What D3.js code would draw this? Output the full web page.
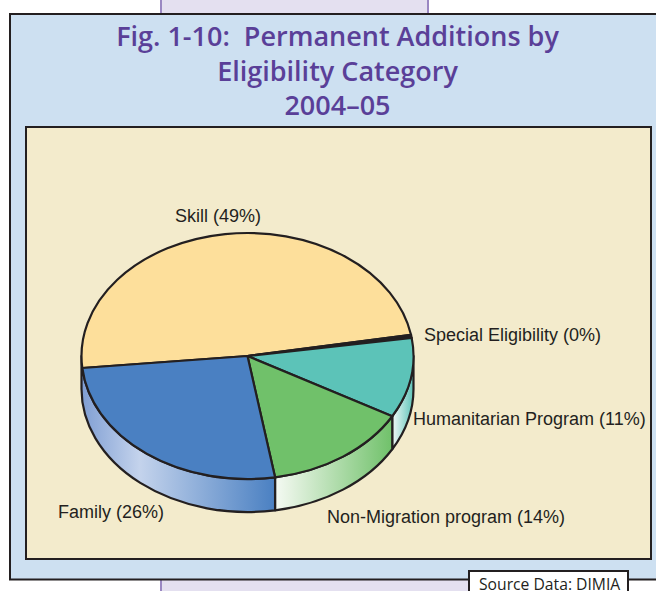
<!DOCTYPE html>
<html lang="en">
<head>
<meta charset="UTF-8">
<title>Permanent Additions by Eligibility Category</title>
<script src="https://cdn.jsdelivr.net/npm/d3@7"></script>
<style>
    html, body { margin: 0; padding: 0; background: #fff; }
    svg { display: block; }
    .title { font-family: "Open Sans", sans-serif; font-weight: 600; font-size: 27px; fill: #5a3f98; text-anchor: middle; white-space: pre; }
    .label { font-family: "Liberation Sans", Arial, sans-serif; font-size: 18px; fill: #231f20; }
    .source { font-family: "Open Sans", sans-serif; font-size: 15.7px; fill: #231f20; }
</style>
</head>
<body>
<script>
    // clockwise from the left edge of Skill
    const categories = ['Skill', 'Special Eligibility', 'Humanitarian Program', 'Non-Migration program', 'Family']
    const values = [48.8, 0.4, 10.5, 14.2, 26.1]
    const titleLines = ['Fig. 1-10:  Permanent Additions by', 'Eligibility Category', '2004\u201305']
    const sourceText = 'Source Data: DIMIA'

    const colors = ['#fddf9b', '#231f20', '#5cc3b8', '#70c16a', '#4a80c2']
    const wallStops = [
        null,
        null,
        [[0, '#f2f9f7'], [1, '#5cc3b8']],
        [[0, '#f4faf3'], [0.12, '#e6f3e3'], [1, '#70c16a']],
        [[0, '#7f9ed3'], [0.3, '#c4d3ec'], [1, '#4a80c2']]
    ]
    const labelPos = [[175, 222], [424, 341], [413, 425], [327, 523], [58, 518]]

    const w = 656, h = 591
    const cx = 247.5, cy = 356, rx = 166, ry = 123, depth = 33
    const ratio = ry / rx
    const dark = '#231f20'

    const svg = d3.select('body').append('svg').attr('width', w).attr('height', h)
    const defs = svg.append('defs')

    // backing page and panels
    svg.append('rect').attr('x', 161).attr('y', -5).attr('width', 267).attr('height', 30)
        .attr('fill', '#e4e0f0').attr('stroke', '#9a88c2').attr('stroke-width', 2)
    svg.append('rect').attr('x', 161).attr('y', 570).attr('width', 320).attr('height', 40)
        .attr('fill', '#e4e0f0').attr('stroke', '#9a88c2').attr('stroke-width', 2)
    svg.append('rect').attr('x', 10).attr('y', 14).attr('width', 660).attr('height', 565.5)
        .attr('fill', '#cde0f1').attr('stroke', dark).attr('stroke-width', 2)
    svg.append('rect').attr('x', 26).attr('y', 127).attr('width', 625).attr('height', 432)
        .attr('fill', '#f3ebcc').attr('stroke', dark).attr('stroke-width', 2)

    svg.selectAll('.title').data(titleLines).enter().append('text')
        .attr('class', 'title')
        .attr('x', 337.5)
        .attr('y', (d, i) => [46, 80.5, 114.5][i])
        .text(d => d)

    // pie is drawn as a circle and squashed into an ellipse
    const pie = d3.pie().sort(null).value(d => d)
        .startAngle(-95.6 * Math.PI / 180)
        .endAngle(264.4 * Math.PI / 180)
    const slices = pie(values)
    const arc = d3.arc().innerRadius(0).outerRadius(rx)
    const g = svg.append('g').attr('transform', `translate(${cx},${cy}) scale(1,${ratio})`)
    const wallDepth = depth / ratio

    // only the front half of the rim (pie angles 90 to 270 deg) shows a wall
    function wallPath(d) {
        const a0 = Math.max(d.startAngle, Math.PI / 2) - Math.PI / 2
        const end = d.index === 4 ? 1.5 * Math.PI : d.endAngle
        const a1 = end - Math.PI / 2
        const p = d3.path()
        p.arc(0, 0, rx, a0, a1)
        p.arc(0, wallDepth, rx, a1, a0, true)
        p.closePath()
        return p.toString()
    }

    slices.forEach(d => {
        const stops = wallStops[d.index]
        if (!stops) return
        const grad = defs.append('linearGradient').attr('id', 'wall' + d.index)
        stops.forEach(s => grad.append('stop').attr('offset', s[0]).attr('stop-color', s[1]))
    })

    g.selectAll('.wall').data(slices.filter(d => wallStops[d.index])).enter().append('path')
        .attr('class', 'wall')
        .attr('d', wallPath)
        .attr('fill', d => `url(#wall${d.index})`)
        .attr('stroke', dark)
        .attr('stroke-width', 2.2)
        .attr('stroke-linejoin', 'round')
        .attr('vector-effect', 'non-scaling-stroke')

    g.selectAll('.slice').data(slices).enter().append('path')
        .attr('class', 'slice')
        .attr('d', arc)
        .attr('fill', (d, i) => colors[i])
        .attr('stroke', dark)
        .attr('stroke-width', 2.2)
        .attr('stroke-linejoin', 'round')
        .attr('vector-effect', 'non-scaling-stroke')

    svg.selectAll('.label').data(categories).enter().append('text')
        .attr('class', 'label')
        .attr('x', (d, i) => labelPos[i][0])
        .attr('y', (d, i) => labelPos[i][1])
        .text((d, i) => `${d} (${Math.round(values[i])}%)`)

    // source tag hanging off the bottom of the panel
    svg.append('rect').attr('x', 469).attr('y', 571).attr('width', 159).attr('height', 30)
        .attr('fill', '#fff').attr('stroke', dark).attr('stroke-width', 2)
    svg.append('text').attr('class', 'source').attr('x', 479).attr('y', 589.5).text(sourceText)
</script>
</body>
</html>
